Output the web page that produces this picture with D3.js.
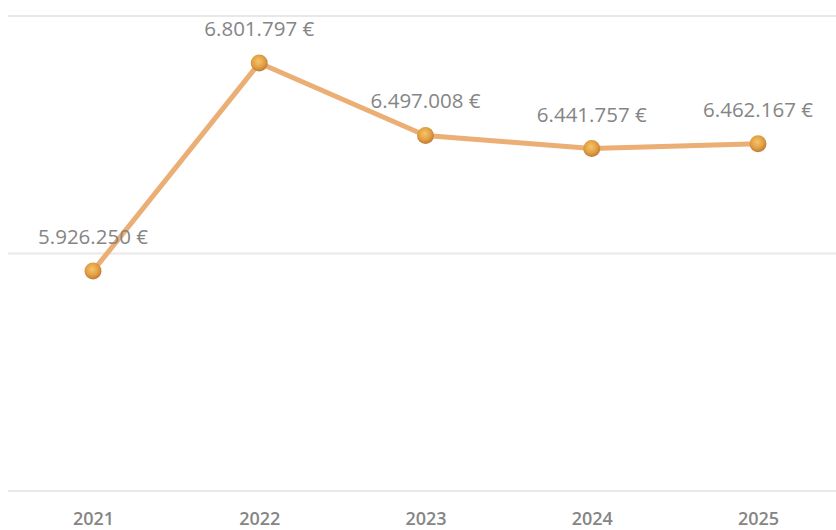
<!DOCTYPE html>
<html>
<head>
<meta charset="utf-8">
<script src="https://cdn.jsdelivr.net/npm/d3@7"></script>
<style>
  html, body { margin: 0; padding: 0; background: #ffffff; }
  svg { display: block; }
</style>
</head>
<body>
<svg id="chart" width="836" height="530"></svg>
<script>
const years = ["2021", "2022", "2023", "2024", "2025"];
const values = [5926250, 6801797, 6497008, 6441757, 6462167];
const gridTicks = [5000000, 6000000, 7000000];

const W = 836, H = 530;
const svg = d3.select("#chart");

const x = d3.scalePoint().domain(years).range([93, 758]);
const y = d3.scaleLinear().domain([5000000, 7000000]).range([491, 16]);

const locale = d3.formatLocale({ decimal: ",", thousands: ".", grouping: [3], currency: ["", " €"] });
const fmt = locale.format("$,.0f");

const defs = svg.append("defs");
const grad = defs.append("radialGradient").attr("id", "dot").attr("cx", "45%").attr("cy", "40%").attr("r", "60%");
grad.append("stop").attr("offset", "0%").attr("stop-color", "#f6c46a");
grad.append("stop").attr("offset", "60%").attr("stop-color", "#e2a043");
grad.append("stop").attr("offset", "100%").attr("stop-color", "#c07a35");
const blur = defs.append("filter").attr("id", "soft").attr("x", "-20%").attr("y", "-20%").attr("width", "140%").attr("height", "140%");
blur.append("feGaussianBlur").attr("stdDeviation", 0.6);

// gridlines
svg.append("g").selectAll("line").data(gridTicks).join("line")
  .attr("x1", 8).attr("x2", W)
  .attr("y1", d => y(d)).attr("y2", d => y(d))
  .attr("stroke", "#e8e8e8").attr("stroke-width", 2);

// x axis labels
const xAxis = d3.axisBottom(x).tickSize(0).tickPadding(0);
const gx = svg.append("g").attr("transform", `translate(0, ${y(5000000)})`).call(xAxis);
gx.select(".domain").remove();
gx.selectAll("text")
  .attr("y", 34).attr("dy", 0)
  .attr("fill", "#858585")
  .style("font-family", "'Open Sans', sans-serif")
  .style("font-weight", 600)
  .style("font-size", "18px");

const data = years.map((yr, i) => ({ yr, v: values[i] }));

// line
const line = d3.line().x(d => x(d.yr)).y(d => y(d.v));
svg.append("path").datum(data)
  .attr("d", line)
  .attr("fill", "none")
  .attr("stroke", "#ebae74")
  .attr("stroke-width", 5)
  .attr("stroke-linejoin", "round")
  .attr("filter", "url(#soft)");

// points
svg.append("g").selectAll("circle").data(data).join("circle")
  .attr("cx", d => x(d.yr)).attr("cy", d => y(d.v))
  .attr("r", 8.5)
  .attr("fill", "url(#dot)")
  .attr("filter", "url(#soft)");

// value labels
svg.append("g").selectAll("text").data(data).join("text")
  .attr("x", d => x(d.yr)).attr("y", d => y(d.v) - 27)
  .attr("text-anchor", "middle")
  .attr("fill", "#858585")
  .style("font-family", "'Open Sans', sans-serif")
  .style("font-size", "20.5px")
  .text(d => fmt(d.v));
</script>
</body>
</html>
